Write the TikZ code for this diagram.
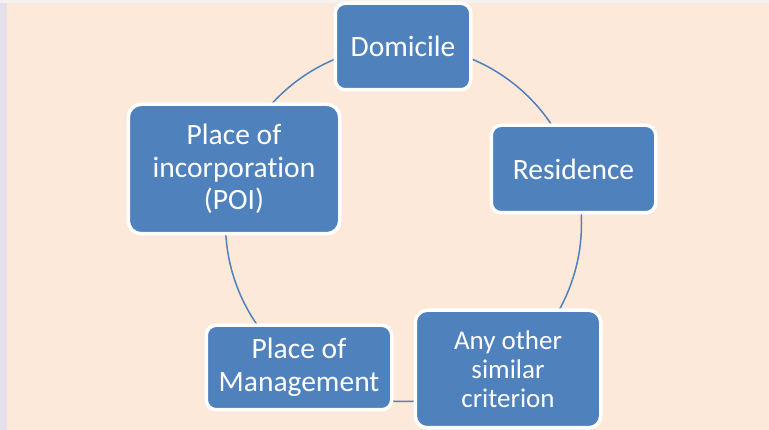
\documentclass[tikz,border=0pt]{standalone}
\usepackage{fontspec}
\setmainfont[Ligatures=NoCommon]{Carlito}
\definecolor{bgpeach}{HTML}{FDE9D9}
\definecolor{lavstrip}{HTML}{E5DFEC}
\definecolor{topstrip}{HTML}{F4F1F1}
\definecolor{boxblue}{HTML}{4F81BD}
\begin{document}
\begin{tikzpicture}[x=1pt,y=-1pt,
  box/.style={draw=white, line width=3.5pt, fill=boxblue, text=white,
    align=center, inner sep=0pt, rounded corners=10pt,
    font=\fontsize{29.5}{32.5}\selectfont},
  smallbox/.style={box, font=\fontsize{27}{29}\selectfont},
  ring/.style={draw=boxblue, line width=1.5pt}]
\useasboundingbox (0,0) rectangle (769,430);
\fill[bgpeach] (0,0) rectangle (769,430);
\fill[lavstrip] (0,0) rectangle (7,430);
\fill[topstrip] (0,0) rectangle (769,3);
\coordinate (c) at (403.5,223.5);
\draw[ring] (c) circle (178);
\node[box, minimum width=135.5pt, minimum height=86.5pt] (dom) at (403,46.5) {Domicile};
\node[box, minimum width=164.5pt, minimum height=87.5pt] (res) at (573.5,169) {Residence};
\node[box, minimum width=211.5pt, minimum height=129.5pt, rounded corners=13pt] (poi) at (234,169) {Place of\\incorporation\\(POI)};
\node[box, minimum width=185.5pt, minimum height=84.5pt] (mgmt) at (299,367.5) {Place of\\Management};
\node[smallbox, minimum width=185.5pt, minimum height=117.5pt, rounded corners=12pt] (any) at (508,369) {Any other\\similar\\criterion};
\end{tikzpicture}
\end{document}
